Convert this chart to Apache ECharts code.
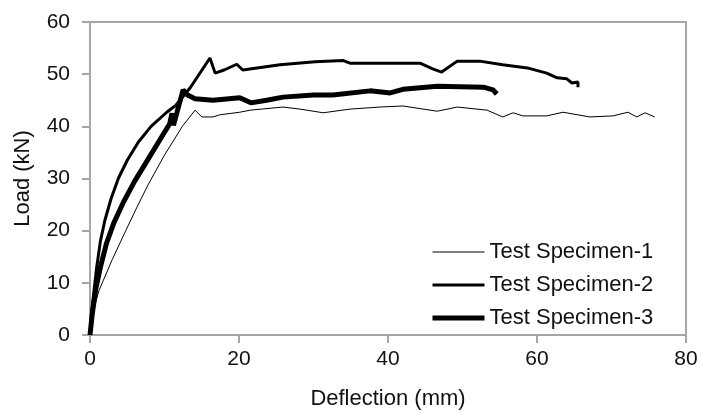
<!DOCTYPE html>
<html>
<head>
<meta charset="utf-8">
<script src="https://cdn.jsdelivr.net/npm/echarts@6/dist/echarts.min.js"></script>
<style>
  html, body { margin: 0; padding: 0; background: #fff; }
  #chart { width: 701px; height: 412px; }
</style>
</head>
<body>
<div id="chart"></div>
<script>
// deflection (mm), load (kN)
var spec1 = [
  [0, 0], [0.3, 3], [0.7, 6], [1.2, 8.5], [1.8, 10.5], [3, 14.5], [4.8, 20], [6.3, 24.5],
  [7.8, 28.8], [10, 34.5], [12.4, 40], [14.1, 43.1], [15, 41.8], [16.5, 41.8], [17.4, 42.2],
  [20.1, 42.7], [21.5, 43.1], [25.9, 43.7], [28.2, 43.3], [31.3, 42.6], [34.9, 43.3],
  [38.9, 43.7], [42, 43.9], [46.6, 42.9], [49.3, 43.7], [53.3, 43.1], [55.4, 41.8],
  [56.8, 42.6], [58.1, 42.0], [61.3, 42.0], [63.5, 42.7], [67.1, 41.8], [70.2, 42.0],
  [72.2, 42.7], [73.4, 41.8], [74.5, 42.6], [75.8, 41.8]
]
var spec2 = [
  [0, 0], [0.2, 4], [0.5, 8], [0.9, 13], [1.4, 18], [2.0, 22], [2.8, 26], [3.8, 30],
  [5, 33.5], [6.5, 37], [8.2, 40], [10.3, 42.7], [11.5, 44], [13.5, 47.5], [16.1, 53.1],
  [16.8, 50.2], [18, 50.8], [19.7, 51.9], [20.5, 50.8], [25.5, 51.8], [30.2, 52.4],
  [34, 52.6], [34.9, 52.1], [38.9, 52.1], [44.3, 52.1], [46.0, 51.0], [47.2, 50.4],
  [49.3, 52.5], [52.3, 52.5], [55.4, 51.8], [58.7, 51.2], [61.3, 50.2], [62.7, 49.3],
  [64.0, 49.1], [64.7, 48.3], [65.5, 48.5], [65.5, 47.5]
]
var spec3 = [
  [0, 0], [0.3, 4], [0.8, 9], [1.4, 13], [2.2, 17.5], [3.2, 21.5], [4.5, 25.5], [6, 29.5],
  [7.5, 33], [9.2, 37], [10.7, 40.5], [11.0, 42.5], [11.2, 40.2], [12.5, 47.0], [13.1, 46.0],
  [14.1, 45.3], [16.5, 45.0], [20.1, 45.5], [21.6, 44.5], [23.7, 45.0], [25.9, 45.6],
  [30, 46.0], [32.6, 46.0], [37.6, 46.8], [40.3, 46.4], [42, 47.1], [46.6, 47.7],
  [52.8, 47.5], [54.1, 47.0], [54.6, 46.2]
]
var names = ['Test Specimen-1', 'Test Specimen-2', 'Test Specimen-3']
var widths = [1, 3, 5]

var font = 'Liberation Sans, Arial, sans-serif'
var chart = echarts.init(document.getElementById('chart'))

chart.setOption({
  animation: false,
  textStyle: { fontFamily: font },
  grid: {
    left: 90, right: 15, top: 22, bottom: 77,
    outerBoundsMode: 'none',
    show: true, borderColor: '#a6a6a6', borderWidth: 2
  },
  legend: {
    orient: 'vertical',
    left: 425,
    top: 236,
    itemWidth: 52,
    itemHeight: 22,
    itemGap: 11,
    data: names.map(function (n, i) {
      return { name: n, itemStyle: { opacity: 0 }, lineStyle: { width: widths[i], color: '#000' } }
    }),
    textStyle: { fontSize: 22, color: '#111', fontFamily: font }
  },
  xAxis: {
    type: 'value',
    min: 0, max: 80, interval: 20,
    name: 'Deflection (mm)',
    nameLocation: 'middle',
    nameGap: 53,
    nameTextStyle: { fontSize: 22, color: '#111' },
    axisLine: { lineStyle: { color: '#a6a6a6', width: 2 } },
    axisTick: { length: 8, lineStyle: { color: '#a6a6a6', width: 2 } },
    axisLabel: { fontSize: 21, color: '#111', margin: 14 },
    splitLine: { show: false }
  },
  yAxis: {
    type: 'value',
    min: 0, max: 60, interval: 10,
    name: 'Load (kN)',
    nameLocation: 'middle',
    nameGap: 56,
    nameTextStyle: { fontSize: 22, color: '#111' },
    axisLine: { show: true, lineStyle: { color: '#a6a6a6', width: 2 } },
    axisTick: { show: true, length: 8, lineStyle: { color: '#a6a6a6', width: 2 } },
    axisLabel: { fontSize: 21, color: '#111', margin: 20 },
    splitLine: { show: false }
  },
  series: [spec1, spec2, spec3].map(function (d, i) {
    return {
      name: names[i],
      type: 'line',
      data: d,
      showSymbol: false,
      symbol: 'none',
      lineStyle: { color: '#000', width: widths[i] },
      itemStyle: { color: '#000' }
    }
  })
})
</script>
</body>
</html>
